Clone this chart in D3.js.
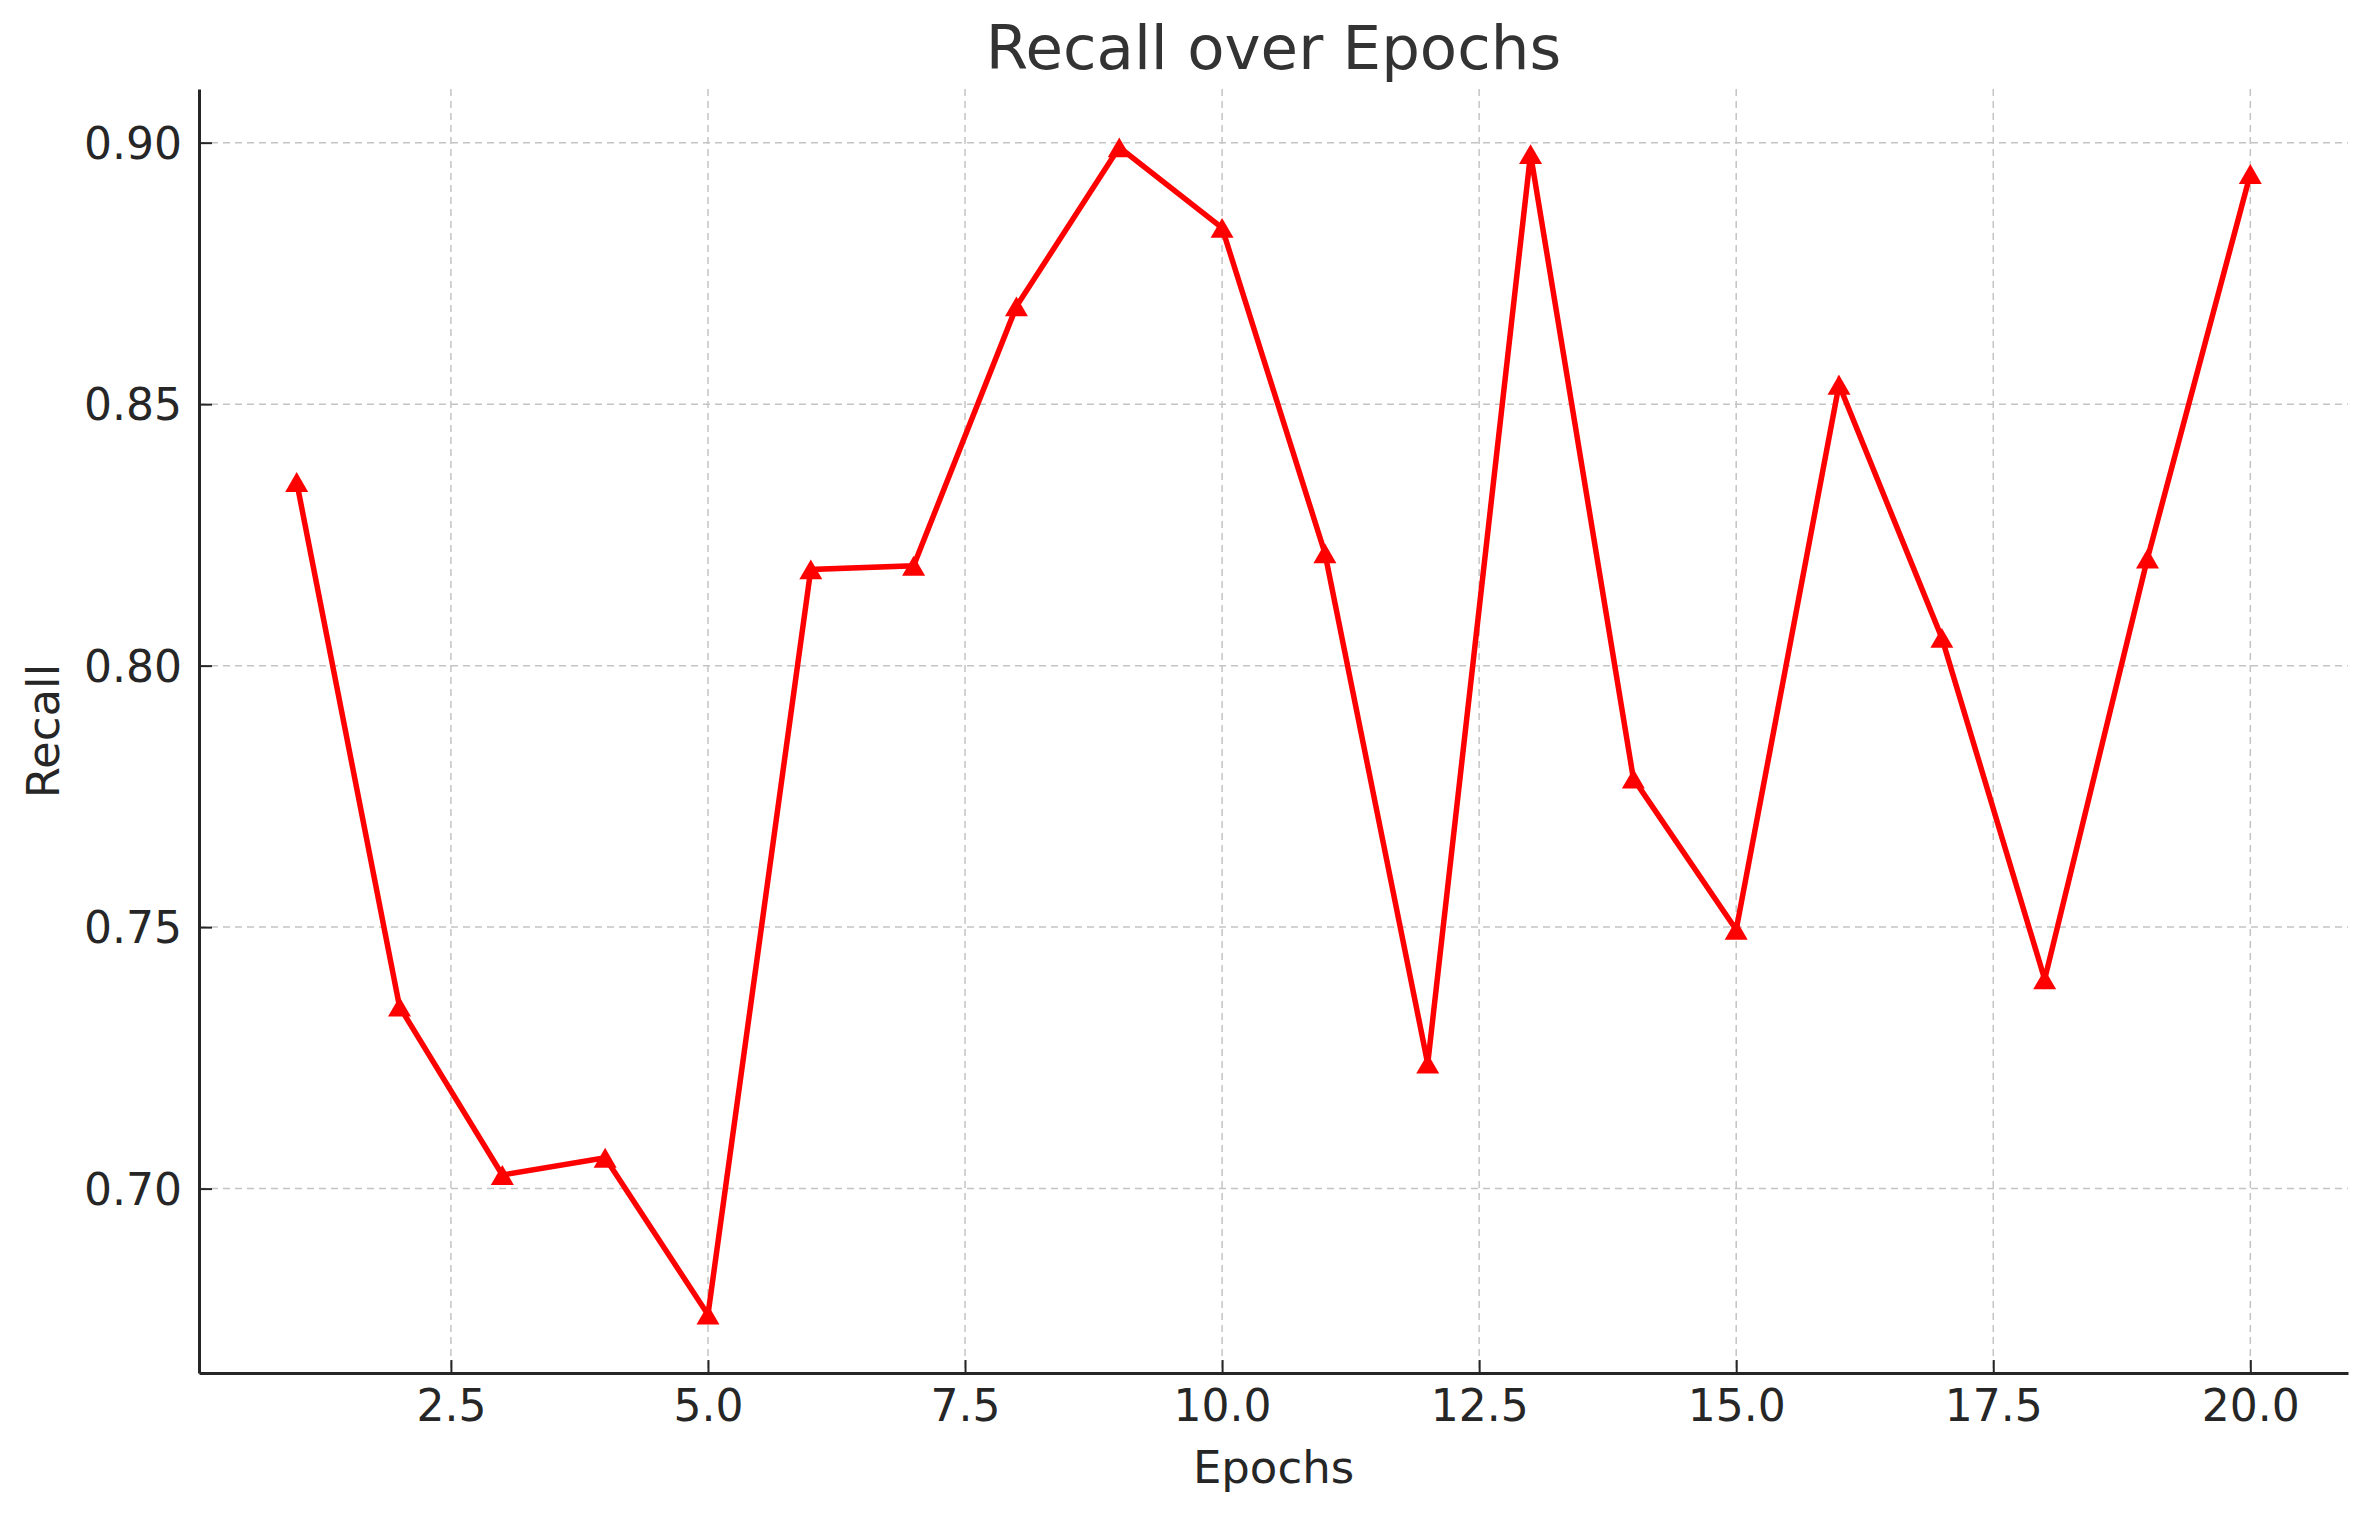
<!DOCTYPE html>
<html>
<head>
<meta charset="utf-8">
<script src="https://cdn.jsdelivr.net/npm/d3@7"></script>
<style>
  html, body { margin: 0; padding: 0; background: #ffffff; }
  svg { display: block; }
  text { font-family: "DejaVu Sans", sans-serif; }
</style>
</head>
<body>
<script>
const epochs = [1,2,3,4,5,6,7,8,9,10,11,12,13,14,15,16,17,18,19,20];
const recall = [0.8351, 0.7348, 0.7026, 0.7059, 0.6759, 0.8184, 0.8191, 0.8687, 0.8991, 0.8837,
                0.8215, 0.7239, 0.8978, 0.7784, 0.7495, 0.8537, 0.8053, 0.7400, 0.8205, 0.8940];
const xTicks = [2.5, 5.0, 7.5, 10.0, 12.5, 15.0, 17.5, 20.0];
const yTicks = [0.70, 0.75, 0.80, 0.85, 0.90];
const titleText = "Recall over Epochs";
const xLabel = "Epochs";
const yLabel = "Recall";

const W = 2374, H = 1518;
const m = { left: 199, right: W - 2348, top: 89, bottom: H - 1373 };

const svg = d3.select("body").append("svg").attr("width", W).attr("height", H);
svg.append("rect").attr("width", W).attr("height", H).attr("fill", "#ffffff");

const xExt = d3.extent(epochs), yExt = d3.extent(recall);
const xPad = (xExt[1] - xExt[0]) * 0.05, yPad = (yExt[1] - yExt[0]) * 0.05;
const x = d3.scaleLinear().domain([xExt[0] - xPad, xExt[1] + xPad]).range([m.left, W - m.right]);
const y = d3.scaleLinear().domain([yExt[0] - yPad, yExt[1] + yPad]).range([H - m.bottom, m.top]);

// grid
const grid = svg.append("g");
grid.selectAll("line.vx").data(xTicks).enter().append("line")
  .attr("x1", d => x(d)).attr("x2", d => x(d))
  .attr("y1", m.top).attr("y2", H - m.bottom)
  .attr("stroke", "#c4c4c4").attr("stroke-width", 1.5).attr("stroke-dasharray", "7,5");
grid.selectAll("line.hy").data(yTicks).enter().append("line")
  .attr("x1", m.left).attr("x2", W - m.right)
  .attr("y1", d => y(d)).attr("y2", d => y(d))
  .attr("stroke", "#c4c4c4").attr("stroke-width", 1.5).attr("stroke-dasharray", "7,5");

// axes
const xAxis = d3.axisBottom(x).tickValues(xTicks).tickFormat(d3.format(".1f"))
  .tickSizeInner(-13).tickSizeOuter(0).tickPadding(17);
const yAxis = d3.axisLeft(y).tickValues(yTicks).tickFormat(d3.format(".2f"))
  .tickSizeInner(-13).tickSizeOuter(0).tickPadding(17);

const gx = svg.append("g").attr("transform", `translate(0,${H - m.bottom})`).call(xAxis);
const gy = svg.append("g").attr("transform", `translate(${m.left},0)`).call(yAxis);
[gx, gy].forEach(g => {
  g.select(".domain").attr("stroke", "#262626").attr("stroke-width", 3);
  g.selectAll(".tick line").attr("stroke", "#262626").attr("stroke-width", 2);
  g.selectAll(".tick text").attr("fill", "#262626").style("font-size", "44px")
    .style("font-family", "'DejaVu Sans', sans-serif");
});
gx.selectAll(".tick text").attr("dy", "0.71em").attr("y", 17);
gy.selectAll(".tick text").attr("dy", "0.36em");

// line
const line = d3.line().x((d, i) => x(epochs[i])).y(d => y(d));
svg.append("path").datum(recall)
  .attr("d", line).attr("fill", "none")
  .attr("stroke", "#ff0000").attr("stroke-width", 5.5).attr("stroke-linejoin", "miter");

// markers (triangles), bbox-centred on the data point like matplotlib '^'
const triSize = 229;
const triHalf = Math.sqrt(triSize / (Math.sqrt(3) * 3)) / 2;
const tri = d3.symbol().type(d3.symbolTriangle).size(triSize);
svg.selectAll("path.mk").data(recall).enter().append("path")
  .attr("class", "mk")
  .attr("d", tri)
  .attr("transform", (d, i) => `translate(${x(epochs[i])},${y(d) + triHalf})`)
  .attr("fill", "#ff0000");

// labels
svg.append("text").attr("x", (m.left + W - m.right) / 2).attr("y", 69)
  .attr("text-anchor", "middle").attr("fill", "#333333")
  .style("font-size", "61px").text(titleText);
svg.append("text").attr("x", (m.left + W - m.right) / 2).attr("y", 1483)
  .attr("text-anchor", "middle").attr("fill", "#262626")
  .style("font-size", "45px").text(xLabel);
svg.append("text")
  .attr("transform", `translate(59,${(m.top + H - m.bottom) / 2}) rotate(-90)`)
  .attr("text-anchor", "middle").attr("fill", "#262626")
  .style("font-size", "45px").text(yLabel);
</script>
</body>
</html>
